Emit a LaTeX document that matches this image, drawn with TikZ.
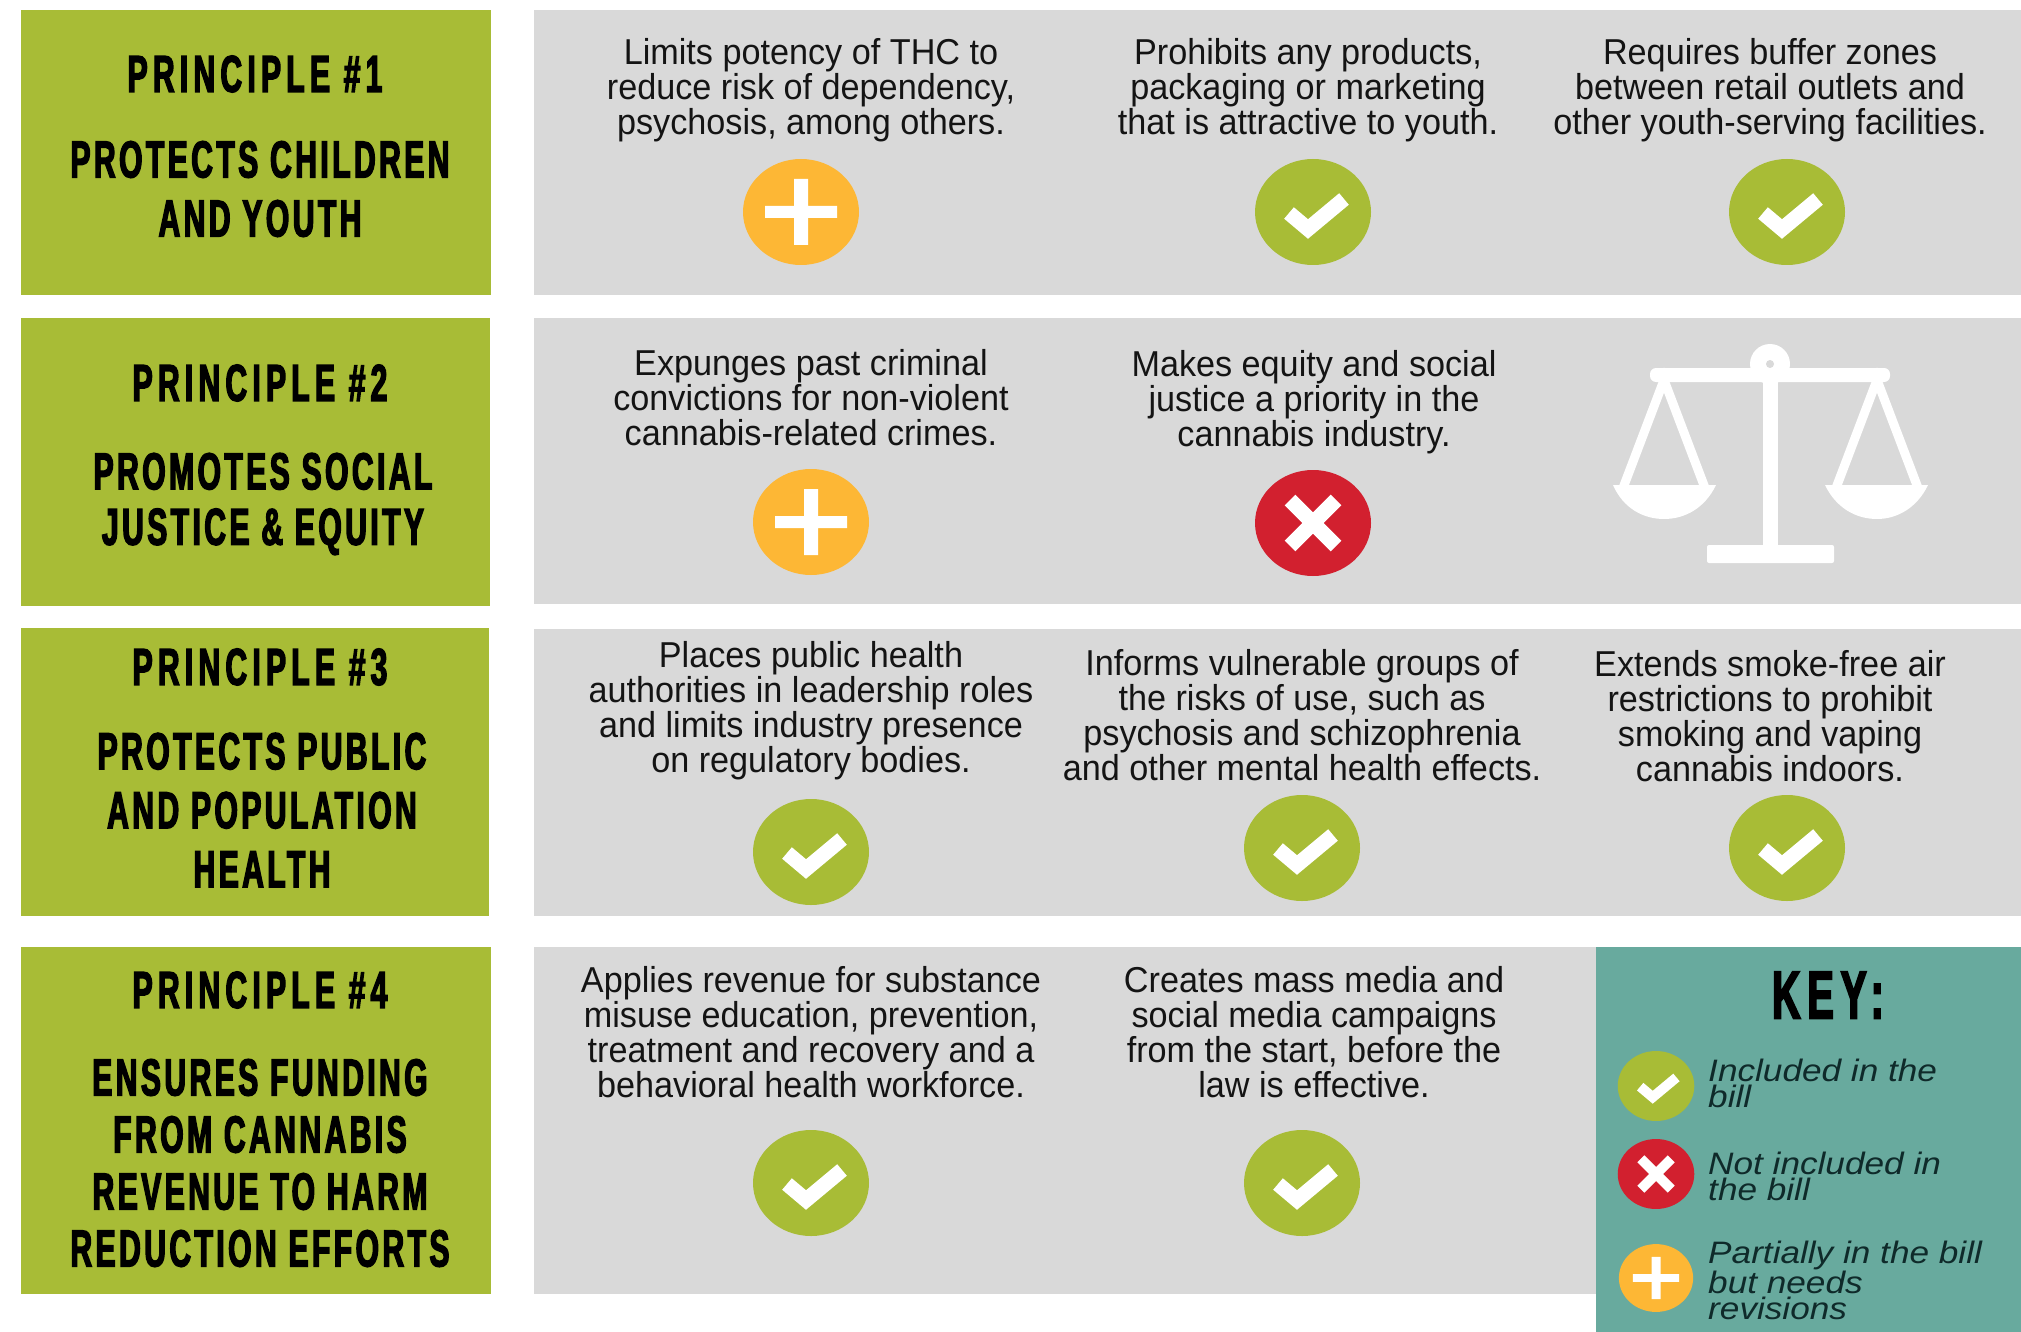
\documentclass[tikz,border=0pt]{standalone}
\usepackage{fontspec}
\setmainfont{Liberation Sans}
\newfontfamily\headf{Liberation Sans}[FakeStretch=0.58,LetterSpace=6.5,FakeBold=2.5]
\newfontfamily\titlef{Liberation Sans}[FakeStretch=0.58,LetterSpace=10,FakeBold=2.5]
\newfontfamily\bodyf{Liberation Sans}[FakeStretch=0.95]
\newfontfamily\keyf{Liberation Sans}[FakeStretch=1.135]
\definecolor{lime}{HTML}{A8BC36}
\definecolor{panel}{HTML}{D9D9D9}
\definecolor{teal2}{HTML}{68AA9E}
\definecolor{amber}{HTML}{FDB735}
\definecolor{crimson}{HTML}{D2202F}
\definecolor{inkk}{HTML}{141414}
\definecolor{keyink}{HTML}{0F2A2A}
\newcommand\iconcheck[3]{\begin{scope}[shift={(#1,#2)},x=#3pt,y=-#3pt]
\fill[lime] (0,0) ellipse [x radius=58,y radius=53];
\draw[white,line width=#3*15pt,miter limit=10] (-24,1) -- (-5,17) -- (31,-13);
\end{scope}}
\newcommand\iconplus[3]{\begin{scope}[shift={(#1,#2)},x=#3pt,y=-#3pt]
\fill[amber] (0,0) ellipse [x radius=58,y radius=53];
\fill[white] (-36,-6) rectangle (36,6) (-7,-33) rectangle (7,33);
\end{scope}}
\newcommand\iconcross[3]{\begin{scope}[shift={(#1,#2)},x=#3pt,y=-#3pt]
\fill[crimson] (0,0) ellipse [x radius=58,y radius=53];
\draw[white,line width=#3*15pt] (-23,-23) -- (23,23) (-23,23) -- (23,-23);
\end{scope}}
\tikzset{
 headt/.style={inner sep=0pt,text=black,align=center,font=\headf\bfseries\fontsize{52}{59}\selectfont},
 titlet/.style={inner sep=0pt,text=black,align=center,font=\titlef\bfseries\fontsize{52}{59}\selectfont},
 bodyt/.style={inner sep=0pt,text=inkk,align=center,font=\bodyf\fontsize{36}{35}\selectfont},
 keyt/.style={inner sep=0pt,text=keyink,align=left,anchor=west,font=\keyf\itshape\fontsize{31}{26}\selectfont},
}
\begin{document}
\begin{tikzpicture}[x=1pt,y=-1pt]
\useasboundingbox (0,0) rectangle (2021,1332);
\fill[white] (0,0) rectangle (2021,1332);
% left bars
\fill[lime] (21,10) rectangle (491,295);
\fill[lime] (21,318) rectangle (490,606);
\fill[lime] (21,628) rectangle (489,916);
\fill[lime] (21,947) rectangle (491,1294);
% panels
\fill[panel] (534,10) rectangle (2021,295);
\fill[panel] (534,318) rectangle (2021,604);
\fill[panel] (534,629) rectangle (2021,916);
\fill[panel] (534,947) rectangle (1600,1294);
\fill[teal2] (1596,947) rectangle (2021,1332);
% headings
\node[titlet] (p1) at (255,74) {PRINCIPLE \#1};
\node[headt] (s1) at (260,189) {PROTECTS CHILDREN\\AND YOUTH};
\node[titlet] (p2) at (260,383) {PRINCIPLE \#2};
\node[headt,font=\headf\bfseries\fontsize{52}{55.5}\selectfont] (s2) at (263,504) {PROMOTES SOCIAL\\JUSTICE \& EQUITY};
\node[titlet] (p3) at (260,667) {PRINCIPLE \#3};
\node[headt] (s3) at (262,810) {PROTECTS PUBLIC\\AND POPULATION\\HEALTH};
\node[titlet] (p4) at (260,990) {PRINCIPLE \#4};
\node[headt,font=\headf\bfseries\fontsize{52}{57}\selectfont] (s4) at (260,1163) {ENSURES FUNDING\\FROM CANNABIS\\REVENUE TO HARM\\REDUCTION EFFORTS};
% row 1
\node[bodyt] (t11) at (811,90) {Limits potency of THC  to\\reduce risk of dependency,\\psychosis, among others.};
\node[bodyt] (t12) at (1308,90) {Prohibits any products,\\packaging or marketing\\that is attractive to youth.};
\node[bodyt] (t13) at (1770,90) {Requires buffer zones\\between retail outlets and\\other youth-serving facilities.};
\iconplus{801}{212}{1}
\iconcheck{1313}{212}{1}
\iconcheck{1787}{212}{1}
% row 2
\node[bodyt] (t21) at (811,398) {Expunges past criminal\\convictions for non-violent\\cannabis-related crimes.};
\node[bodyt] (t22) at (1314,402) {Makes equity and social\\justice a priority in the\\cannabis industry.};
\iconplus{811}{522}{1}
\iconcross{1313}{523}{1}
% scale
\begin{scope}[white]
\fill (1770,364) circle (20);
\fill[panel] (1770,364) circle (4);
\fill[rounded corners=6] (1650,368) rectangle (1890,382);
\fill (1763,380) rectangle (1778,550);
\fill[rounded corners=2] (1707,545) rectangle (1834,563);
\draw[line width=9pt] (1623,488) -- (1664,380) -- (1705,488);
\draw[line width=9pt] (1836,488) -- (1877,380) -- (1918,488);
\fill (1613,485) -- (1716,485) .. controls (1705,508) and (1685,519) .. (1664,519) .. controls (1643,519) and (1623,508) .. (1613,485) -- cycle;
\fill (1825,485) -- (1928,485) .. controls (1917,508) and (1897,519) .. (1877,519) .. controls (1856,519) and (1836,508) .. (1825,485) -- cycle;
\end{scope}
% row 3
\node[bodyt] (t31) at (811,711) {Places public health\\authorities in leadership roles\\and  limits industry presence\\on regulatory bodies.};
\node[bodyt] (t32) at (1302,715) {Informs vulnerable groups of\\the risks of use, such as\\psychosis and schizophrenia\\and other mental health effects.};
\node[bodyt] (t33) at (1770,716) {Extends smoke-free air\\restrictions to  prohibit\\smoking and vaping\\cannabis indoors.};
\iconcheck{811}{852}{1}
\iconcheck{1302}{848}{1}
\iconcheck{1787}{848}{1}
% row 4
\node[bodyt] (t41) at (811,1032) {Applies revenue for substance\\misuse education, prevention,\\treatment and recovery and a\\behavioral health workforce.};
\node[bodyt] (t42) at (1314,1032) {Creates mass media and\\social media campaigns\\from the start, before the\\law is effective.};
\iconcheck{811}{1183}{1}
\iconcheck{1302}{1183}{1}
% key
\node[titlet,font=\titlef\bfseries\fontsize{68}{68}\selectfont] (kh) at (1828,995) {KEY:};
\iconcheck{1656}{1086}{0.66}
\iconcross{1656}{1174}{0.66}
\iconplus{1656}{1278}{0.64}
\node[keyt] (k1) at (1708,1083) {Included in the\\bill};
\node[keyt] (k2) at (1708,1176) {Not included in\\the bill};
\node[keyt] (k3) at (1708,1280) {Partially in the bill\\but needs\\revisions};
\end{tikzpicture}
\end{document}
